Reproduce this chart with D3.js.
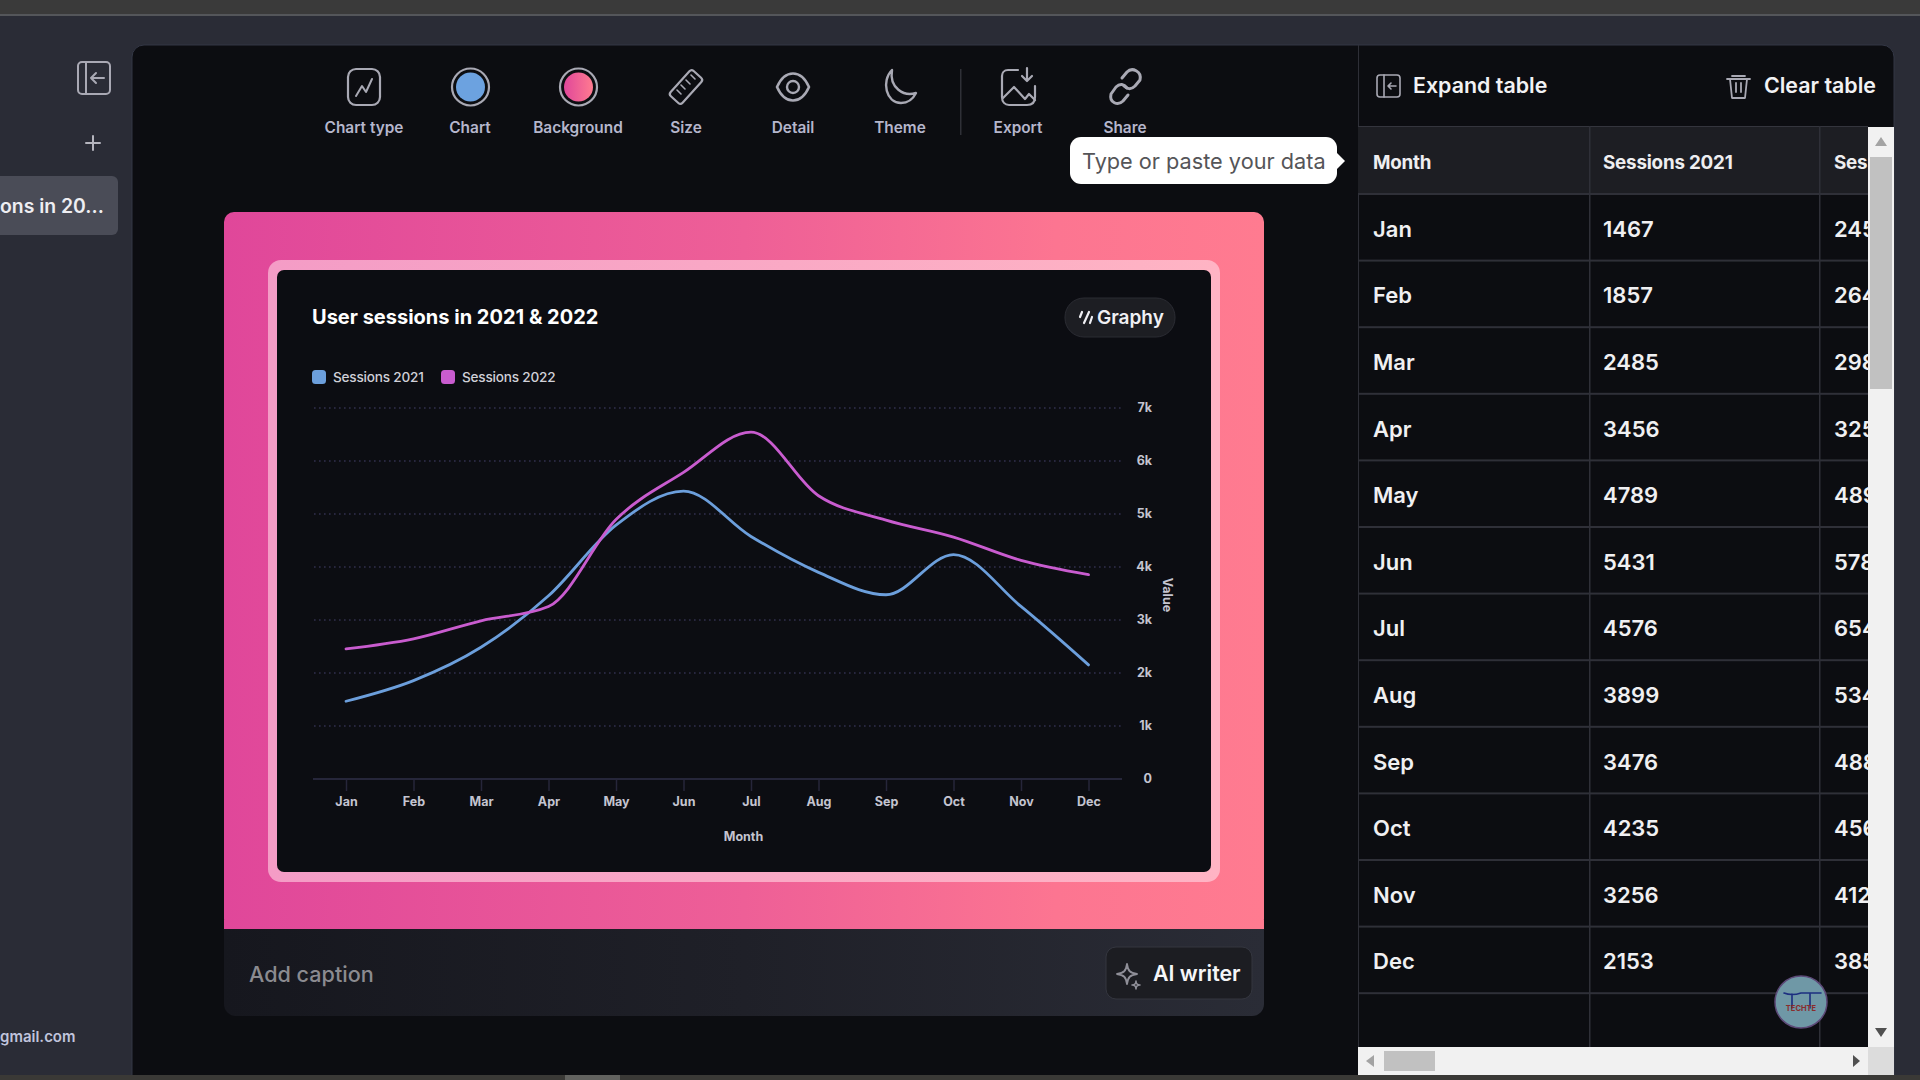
<!DOCTYPE html>
<html>
<head>
<meta charset="utf-8">
<title>User sessions in 2021 & 2022</title>
<script src="https://cdn.jsdelivr.net/npm/d3@7"></script>
<style>
	html, body { margin: 0; padding: 0; background: #2a2c36; overflow: hidden; }
	svg { display: block; font-family: 'Inter', 'Noto Sans', sans-serif; }
</style>
</head>
<body>
<svg id="page" width="1920" height="1080" viewBox="0 0 1920 1080"></svg>
<script>
// values (last digit of 2022 is hidden by the table scroll, estimated)
var months = ["Jan", "Feb", "Mar", "Apr", "May", "Jun", "Jul", "Aug", "Sep", "Oct", "Nov", "Dec"];
var sessions2021 = [1467, 1857, 2485, 3456, 4789, 5431, 4576, 3899, 3476, 4235, 3256, 2153];
var sessions2022 = [2455, 2645, 2985, 3255, 4895, 5785, 6545, 5345, 4885, 4565, 4125, 3855];
var valueTicks = [0, 1000, 2000, 3000, 4000, 5000, 6000, 7000];
var seriesNames = ["Sessions 2021", "Sessions 2022"];
var seriesColors = ["#6c9fdc", "#c95ccf"];
var toolbarItems = ["Chart type", "Chart", "Background", "Size", "Detail", "Theme", "Export", "Share"];

var svg = d3.select("#page");
var defs = svg.append("defs");

function gradient(id, stops) {
	var g = defs.append("linearGradient").attr("id", id);
	stops.forEach(function(s) {
		g.append("stop").attr("offset", s[0]).attr("stop-color", s[1]);
	});
}
gradient("cardBg", [[0, "#e0479a"], [0.5, "#ee5f97"], [0.8, "#fc7591"], [1, "#ff7b90"]]);
gradient("frameBg", [[0, "#f49cc6"], [1, "#ffb4c4"]]);
gradient("captionBg", [[0, "#16171e"], [0.5, "#1f2028"], [1, "#2a2c36"]]);
gradient("swatchBg", [[0, "#e0479a"], [1, "#ff7b90"]]);
defs.append("clipPath").attr("id", "tableClip").append("rect")
	.attr("x", 1358).attr("y", 126).attr("width", 510).attr("height", 921);

function rect(parent, x, y, w, h, fill, r) {
	return parent.append("rect").attr("x", x).attr("y", y).attr("width", w).attr("height", h)
		.attr("fill", fill).attr("rx", r || 0);
}
function label(parent, x, y, str, size, weight, fill, anchor) {
	return parent.append("text").attr("x", x).attr("y", y).attr("dy", "0.35em")
		.attr("font-size", size).attr("font-weight", weight).attr("fill", fill)
		.attr("text-anchor", anchor || "start").text(str);
}
function stroke(sel, color, w) {
	return sel.attr("fill", "none").attr("stroke", color).attr("stroke-width", w)
		.attr("stroke-linecap", "round").attr("stroke-linejoin", "round");
}

// ---- window chrome
rect(svg, 0, 0, 1920, 1080, "#2a2c36");
rect(svg, 0, 0, 1920, 14, "#3a3a3a");
rect(svg, 0, 14, 1920, 2, "#54565a");
rect(svg, 132, 45, 1762, 1050, "#0c0d11", 12).attr("stroke", "#333745").attr("stroke-width", 1);
rect(svg, 0, 1075, 1920, 5, "#3a3936");
rect(svg, 565, 1075, 55, 5, "#62625f");

// ---- left sidebar
var iconStroke = "#a9a9b4";
stroke(svg.append("rect").attr("x", 78).attr("y", 62).attr("width", 32).attr("height", 32).attr("rx", 4), iconStroke, 2);
stroke(svg.append("path").attr("d", "M86 62V94M104 78H91M96 73L91 78L96 83"), iconStroke, 2);
stroke(svg.append("path").attr("d", "M93 136V150M86 143H100"), "#b5b5be", 2);
rect(svg, -12, 176, 130, 59, "#4a4c57", 6);
label(svg, 0, 206, "ons in 20...", 19.4, 600, "#eeeef2");
label(svg, 0, 1037, "gmail.com", 15, 600, "#c0c4dc");

// ---- toolbar
var toolX = [364, 470, 578, 686, 793, 900, 1018, 1125];
var toolbar = svg.append("g").selectAll("text").data(toolbarItems).join("text")
	.attr("x", function(d, i) { return toolX[i]; })
	.attr("y", 128).attr("dy", "0.35em").attr("text-anchor", "middle")
	.attr("font-size", 15.4).attr("font-weight", 600).attr("fill", "#b5b6cc")
	.text(function(d) { return d; });

// chart type
stroke(svg.append("rect").attr("x", 348).attr("y", 69).attr("width", 32).attr("height", 36).attr("rx", 8), iconStroke, 2.2);
stroke(svg.append("path").attr("d", "M356 96L362 86L366 92L372 79"), iconStroke, 2);
// chart + background swatches
stroke(svg.append("circle").attr("cx", 470.5).attr("cy", 87).attr("r", 18.5), iconStroke, 2.2);
svg.append("circle").attr("cx", 470.5).attr("cy", 87).attr("r", 14.5).attr("fill", "#6ca2e0");
stroke(svg.append("circle").attr("cx", 578.5).attr("cy", 87).attr("r", 18.5), iconStroke, 2.2);
svg.append("circle").attr("cx", 578.5).attr("cy", 87).attr("r", 14.5).attr("fill", "url(#swatchBg)");
// size
stroke(svg.append("g").attr("transform", "translate(686,87) rotate(42)").append("rect")
	.attr("x", -8).attr("y", -17).attr("width", 16).attr("height", 34).attr("rx", 3), iconStroke, 2.2);
stroke(svg.append("path").attr("d", "M686 80L690 84M681 85L685 89M677 90L681 94M691 75L695 79"), iconStroke, 1.6);
// detail
stroke(svg.append("path").attr("d", "M777 87C785 69 801 69 809 87C801 105 785 105 777 87Z"), iconStroke, 2.6);
stroke(svg.append("circle").attr("cx", 793).attr("cy", 87).attr("r", 6), iconStroke, 2.4);
// theme
stroke(svg.append("path").attr("d", "M892 70C881 81 886 103 901 103C908 103 913 99 916 93C904 97 889 88 892 70Z"), iconStroke, 2.4);
// separator
rect(svg, 960, 69, 1.5, 66, "#2f3037");
// export
stroke(svg.append("path").attr("d", "M1018 70H1008C1004 70 1002 73 1002 76V97C1002 102 1005 105 1009 105H1027C1032 105 1035 102 1035 97V86"), iconStroke, 2.2);
stroke(svg.append("path").attr("d", "M1003 98L1014 87L1025 99L1029 94L1035 100"), iconStroke, 2.2);
stroke(svg.append("path").attr("d", "M1027 68V80M1022 76L1027 81L1032 76"), iconStroke, 2.2);
// share
stroke(svg.append("path").attr("d", "M1122 78L1127 72C1132 67 1142 71 1140 80L1135 86C1131 90 1127 89 1124 86"), iconStroke, 3);
stroke(svg.append("path").attr("d", "M1128 95L1123 101C1118 106 1109 103 1111 94L1116 87C1120 83 1124 84 1127 88"), iconStroke, 3);

// ---- card
rect(svg, 224, 212, 1040, 804, "url(#captionBg)", 12);
rect(svg, 224, 212, 1040, 717, "url(#cardBg)", 10);
rect(svg, 224, 920, 1040, 9, "url(#cardBg)");
rect(svg, 268, 260, 952, 622, "url(#frameBg)", 13);
rect(svg, 277, 270, 934, 602, "#0c0d12", 7);

label(svg, 312, 317, "User sessions in 2021 & 2022", 20, 700, "#ffffff");
// graphy badge
rect(svg, 1065, 298, 110, 39, "#1d1e23", 19).attr("stroke", "#2b2c33");
stroke(svg.append("path").attr("d", "M1082 312L1080 317M1089 312L1084 323M1092 317L1090 323"), "#f0f0f4", 2.2);
label(svg, 1097, 317, "Graphy", 19, 600, "#f0f0f4");

// legend
var legendX = [312, 441];
var legend = svg.append("g").selectAll("g").data(seriesNames).join("g")
	.attr("transform", function(d, i) { return "translate(" + legendX[i] + ",377)"; });
legend.append("rect").attr("y", -7).attr("width", 14).attr("height", 14).attr("rx", 3.5)
	.attr("fill", function(d, i) { return seriesColors[i]; });
legend.append("text").attr("x", 21).attr("dy", "0.35em").attr("font-size", 13.6).attr("font-weight", 500)
	.attr("letter-spacing", -0.2).attr("fill", "#d0d0d8").text(function(d) { return d; });

// ---- plot
var x = d3.scalePoint().domain(months).range([346, 1088.5]);
var y = d3.scaleLinear().domain([0, 7000]).range([779, 408]);

var xAxis = svg.append("g").attr("transform", "translate(0,779)")
	.call(d3.axisBottom(x).tickSize(12).tickPadding(6.5));
xAxis.select(".domain").remove();
xAxis.selectAll("line").attr("stroke", "#26263a").attr("stroke-width", 1.5);
xAxis.selectAll("text").attr("fill", "#c4c4d0").attr("font-size", 12.5).attr("font-weight", 700)
	.attr("font-family", "Inter");

var yAxis = svg.append("g").attr("transform", "translate(1124,-1)")
	.call(d3.axisRight(y).tickValues(valueTicks).tickSize(0).tickPadding(28)
		.tickFormat(function(d) { return d == 0 ? "0" : (d / 1000) + "k"; }));
yAxis.select(".domain").remove();
yAxis.selectAll("text").attr("text-anchor", "end").attr("fill", "#c4c4d0").attr("font-size", 12.5)
	.attr("font-weight", 700).attr("font-family", "Inter");

// dotted grid, the zero line is solid
svg.append("g").selectAll("line").data(valueTicks.slice(1)).join("line")
	.attr("x1", 314).attr("x2", 1124)
	.attr("y1", function(d) { return y(d); }).attr("y2", function(d) { return y(d); })
	.attr("stroke", "#312f4e").attr("stroke-width", 1.6).attr("stroke-dasharray", "1.6 3.4");
svg.append("line").attr("x1", 313).attr("x2", 1122).attr("y1", y(0)).attr("y2", y(0))
	.attr("stroke", "#26263a").attr("stroke-width", 2);

var line = d3.line()
	.x(function(d, i) { return x(months[i]); })
	.y(function(d) { return y(d); })
	.curve(d3.curveMonotoneX);

svg.append("g").selectAll("path").data([sessions2021, sessions2022]).join("path")
	.attr("d", line).attr("fill", "none").attr("stroke-width", 2.8).attr("stroke-linecap", "round")
	.attr("stroke", function(d, i) { return seriesColors[i]; });

label(svg, 743.5, 837, "Month", 12.5, 700, "#c4c4d0", "middle");
svg.append("text").attr("transform", "translate(1167,595) rotate(90)").attr("text-anchor", "middle")
	.attr("dy", "0.35em").attr("font-size", 12.5).attr("font-weight", 700).attr("fill", "#c4c4d0").text("Value");

// ---- caption bar
label(svg, 249, 974, "Add caption", 21.6, 500, "#8b8b90");
rect(svg, 1106, 947, 146, 52, "#1c1d22", 10).attr("stroke", "#34363f");
stroke(svg.append("path").attr("d", "M1127 964C1128 971 1130 973 1137 974C1130 975 1128 977 1127 984C1126 977 1124 975 1117 974C1124 973 1126 971 1127 964Z"), "#8f8f98", 1.8);
stroke(svg.append("path").attr("d", "M1136 981C1136 984 1137 985 1140 985C1137 985 1136 986 1136 989C1136 986 1135 985 1132 985C1135 985 1136 984 1136 981Z"), "#8f8f98", 1.6);
label(svg, 1153, 974, "AI writer", 21.4, 600, "#f6f6f8");

// ---- table panel
rect(svg, 1358, 45, 1, 1002, "#2e2f37");
stroke(svg.append("rect").attr("x", 1377).attr("y", 75).attr("width", 23).attr("height", 22).attr("rx", 3), iconStroke, 1.6);
stroke(svg.append("path").attr("d", "M1384 75V97M1396 86H1388M1391 83L1388 86L1391 89"), iconStroke, 1.6);
label(svg, 1413, 86, "Expand table", 21.4, 600, "#f2f2f4");
stroke(svg.append("path").attr("d", "M1727 79H1750M1732 76H1745M1730 79L1732 98H1745L1747 79M1736 83V92M1741 83V92"), iconStroke, 1.8);
label(svg, 1764, 86, "Clear table", 21.4, 600, "#f2f2f4");

var table = svg.append("g").attr("clip-path", "url(#tableClip)");
rect(table, 1358, 126, 510, 68, "#1d1e23");
rect(table, 1358, 125, 510, 2, "#34353d");

var rowY = d3.scaleLinear().domain([0, 13]).range([194, 194 + 66.6 * 13]);
var colX = [1373, 1603, 1834];

table.selectAll(".rowline").data(d3.range(0, 13)).join("rect")
	.attr("x", 1358).attr("width", 510).attr("height", 2).attr("y", function(d) { return rowY(d) - 1; })
	.attr("fill", "#2f3038");
[1589, 1819].forEach(function(cx) { rect(table, cx, 126, 1.5, 921, "#2f3038"); });

var headers = ["Month"].concat(seriesNames);
table.selectAll(".head").data(headers).join("text")
	.attr("x", function(d, i) { return colX[i]; }).attr("y", 162).attr("dy", "0.35em")
	.attr("font-size", 18.8).attr("font-weight", 700).attr("fill", "#eeeef0")
	.attr("letter-spacing", -0.2).text(function(d) { return d; });

var rows = table.selectAll(".row").data(months).join("g")
	.attr("transform", function(d, i) { return "translate(0," + (rowY(i) + 35) + ")"; });
rows.append("text").attr("x", colX[0]).attr("dy", "0.35em").attr("font-size", 22).attr("font-weight", 600)
	.attr("fill", "#f0f0f2").text(function(d) { return d; });
rows.append("text").attr("x", colX[1]).attr("dy", "0.35em").attr("font-size", 22).attr("font-weight", 600)
	.attr("fill", "#f0f0f2").text(function(d, i) { return sessions2021[i]; });
rows.append("text").attr("x", colX[2]).attr("dy", "0.35em").attr("font-size", 22).attr("font-weight", 600)
	.attr("fill", "#f0f0f2").text(function(d, i) { return sessions2022[i]; });

// scrollbars
rect(svg, 1868, 127, 26, 920, "#f1f1f1");
rect(svg, 1870, 157, 22, 232, "#c1c1c1");
svg.append("path").attr("d", "M1881 137L1887 146H1875Z").attr("fill", "#a3a3a3");
svg.append("path").attr("d", "M1881 1037L1887 1028H1875Z").attr("fill", "#505050");
rect(svg, 1358, 1047, 510, 28, "#f1f1f1");
rect(svg, 1868, 1047, 26, 28, "#dcdcdc");
rect(svg, 1384, 1051, 51, 20, "#c1c1c1");
svg.append("path").attr("d", "M1366 1061L1374 1055V1067Z").attr("fill", "#a3a3a3");
svg.append("path").attr("d", "M1860 1061L1853 1055V1067Z").attr("fill", "#505050");

// tooltip
rect(svg, 1070, 137, 267, 47, "#ffffff", 11);
svg.append("path").attr("d", "M1336 152L1345 161L1336 170Z").attr("fill", "#ffffff");
label(svg, 1082, 161, "Type or paste your data", 21.7, 400, "#555558");

// watermark avatar
var badge = svg.append("g").attr("transform", "translate(1801,1002)");
badge.append("circle").attr("r", 26).attr("fill", "#6f98a6").attr("stroke", "#5d4a78").attr("stroke-width", 1.5);
stroke(badge.append("path").attr("d", "M-17 -9C-12 -7 -6 -7 0 -9H20M-9 -8V6M9 -8V6"), "#1d2f80", 1.6);
badge.append("text").attr("y", 9).attr("text-anchor", "middle").attr("font-size", 7.5).attr("font-weight", 700)
	.attr("fill", "#8a2c2c").text("TECHTE");
</script>
</body>
</html>
